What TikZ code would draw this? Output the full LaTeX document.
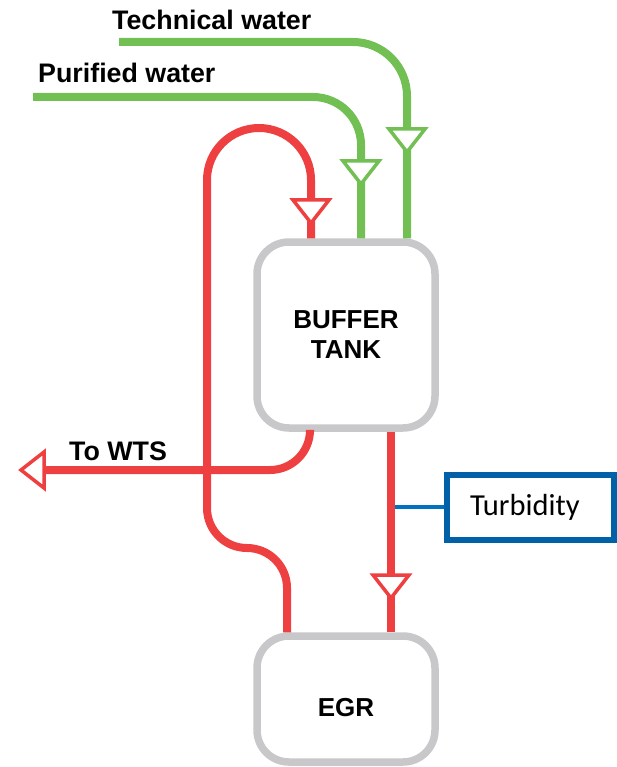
\documentclass[tikz,border=0pt]{standalone}
\usepackage{fontspec}
\setmainfont{Liberation Sans}
\newfontfamily\sensorfont{Carlito}
\usetikzlibrary{positioning}

\definecolor{pipered}{RGB}{238,64,64}
\definecolor{pipegreen}{RGB}{114,191,84}
\definecolor{tankgray}{RGB}{200,200,202}
\definecolor{sensorblue}{RGB}{0,96,168}
\definecolor{wireblue}{RGB}{0,114,192}

\tikzset{
  vessel/.style={draw=tankgray, line width=7.5pt, rounded corners=32pt, fill=white,
    minimum width=178pt, align=center, font=\bfseries\fontsize{26}{30}\selectfont},
  sensor/.style={draw=sensorblue, line width=6pt, fill=white, minimum height=65pt,
    text width=121pt, inner xsep=23pt, align=left, font=\sensorfont\fontsize{30.5}{34}\selectfont},
  redpipe/.style={draw=pipered, line width=8pt},
  greenpipe/.style={draw=pipegreen, line width=8pt},
  pipelabel/.style={anchor=base west, inner sep=0pt, font=\bfseries\fontsize{26.8}{30}\selectfont},
  valve/.pic={\draw[pic actions, line width=3.5pt, fill=white, line join=miter] (-18,0) -- (18,0) -- (0,23) -- cycle;}
}

\begin{document}
\begin{tikzpicture}[x=1pt, y=-1pt]
    \useasboundingbox (0,0) rectangle (617,767);

    % Behaelter
    \node[vessel, minimum height=186pt] (tank) at (346,335) {BUFFER\\TANK};
    \node[vessel, minimum height=126pt, text height=35pt, text depth=0pt] (egr) at (346,699) {EGR};
    \node[sensor] (turb) at (530.5,507) {Turbidity};

    % Beschriftungen
    \node[pipelabel] (techlabel) at (112,30) {Technical water};
    \node[pipelabel] (purelabel) at (38,83) {Purified water};
    \node[pipelabel] (wtslabel) at (69,460) {To WTS};

    % Zulaeufe gruen
    \coordinate (techin) at (119,42);
    \coordinate (purein) at (33,97);
    \draw[greenpipe, rounded corners=54pt] (techin) -- (407,42) -- (tank.north -| 407,0);
    \draw[greenpipe, rounded corners=48pt] (purein) -- (361,97) -- (tank.north -| 361,0);

    % Kreislauf rot
    \coordinate (loopmid) at (207,330);
    \draw[redpipe, rounded corners=40pt] (egr.north -| 287,0) -- (287,548) -- (207,548) -- (loopmid);
    \draw[redpipe, rounded corners=52pt] (loopmid) -- (207,128) -- (311,128) -- (tank.north -| 311,0);

    % Ablauf zur WTS
    \coordinate (wtsout) at (44,470);
    \draw[redpipe, rounded corners=40pt] (tank.south -| 310,0) -- (310,470) -- (wtsout);

    % Messleitung und Ablauf zum EGR
    \draw[wireblue, line width=3.5pt] (turb.west -| 391,0) -- (turb.west);
    \draw[redpipe] (tank.south -| 391,0) -- (egr.north -| 391,0);

    % Dreiecke
    \pic[pipegreen] at (407,129) {valve};
    \pic[pipegreen] at (361,161) {valve};
    \pic[pipered] at (311,200) {valve};
    \pic[pipered] at (391,575) {valve};
    \pic[pipered, rotate=-90] at (wtsout) {valve};
\end{tikzpicture}
\end{document}
